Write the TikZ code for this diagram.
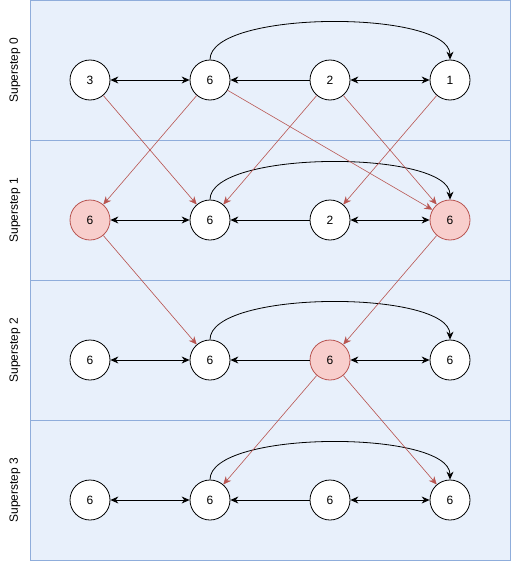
\documentclass[tikz,border=0pt]{standalone}
\usepackage{fontspec}
\setmainfont{Liberation Sans}
\usetikzlibrary{arrows.meta}
\definecolor{laneblue}{HTML}{E8F0FB}
\definecolor{laneborder}{HTML}{8FADDB}
\definecolor{msgred}{HTML}{B85450}
\definecolor{activefill}{HTML}{F8CECC}

\begin{document}
\begin{tikzpicture}[x=1pt,y=-1pt,
    vertex/.style={circle, draw, line width=0.8pt, fill=white, minimum size=40pt,
                   inner sep=0pt, font=\fontsize{12}{12}\selectfont},
    active/.style={vertex, draw=msgred, fill=activefill},
    link/.style={line width=0.8pt, -{Stealth[length=8pt,width=7pt]}},
    duplex/.style={line width=0.8pt, {Stealth[length=8pt,width=7pt]}-{Stealth[length=8pt,width=7pt]}},
    message/.style={draw=msgred, line width=0.6pt, -{Stealth[length=8pt,width=7pt]}},
    lane/.style={draw=laneborder, fill=laneblue, line width=0.8pt}]

    \useasboundingbox (0,0) rectangle (512,562);

    % supersteps
    \foreach \s in {0,...,3} {
        \draw[lane] (30,140*\s+0.5) rectangle (510,140*\s+140.5);
        \node[rotate=90, font=\fontsize{12}{12}\selectfont] (label\s) at (15,140*\s+70) {Superstep \s};
    }

    % superstep 0
    \node[vertex] (s0a) at (90,80) {3};
    \node[vertex] (s0b) at (210,80) {6};
    \node[vertex] (s0c) at (330,80) {2};
    \node[vertex] (s0d) at (450,80) {1};

    % superstep 1
    \node[active] (s1a) at (90,220) {6};
    \node[vertex] (s1b) at (210,220) {6};
    \node[vertex] (s1c) at (330,220) {2};
    \node[active] (s1d) at (450,220) {6};

    % superstep 2
    \node[vertex] (s2a) at (90,360) {6};
    \node[vertex] (s2b) at (210,360) {6};
    \node[active] (s2c) at (330,360) {6};
    \node[vertex] (s2d) at (450,360) {6};

    % superstep 3
    \node[vertex] (s3a) at (90,500) {6};
    \node[vertex] (s3b) at (210,500) {6};
    \node[vertex] (s3c) at (330,500) {6};
    \node[vertex] (s3d) at (450,500) {6};

    % graph edges
    \foreach \s in {0,...,3} {
        \draw[duplex] (s\s a) -- (s\s b);
        \draw[link] (s\s c) -- (s\s b);
        \draw[duplex] (s\s c) -- (s\s d);
        \draw[link] (s\s b.north) .. controls +(0,-50) and +(0,-50) .. (s\s d.north);
    }

    % messages
    \draw[message] (s0a) -- (s1b);
    \draw[message] (s0b) -- (s1a);
    \draw[message] (s0b) -- (s1d);
    \draw[message] (s0c) -- (s1b);
    \draw[message] (s0c) -- (s1d);
    \draw[message] (s0d) -- (s1c);
    \draw[message] (s1a) -- (s2b);
    \draw[message] (s1d) -- (s2c);
    \draw[message] (s2c) -- (s3b);
    \draw[message] (s2c) -- (s3d);
\end{tikzpicture}
\end{document}
